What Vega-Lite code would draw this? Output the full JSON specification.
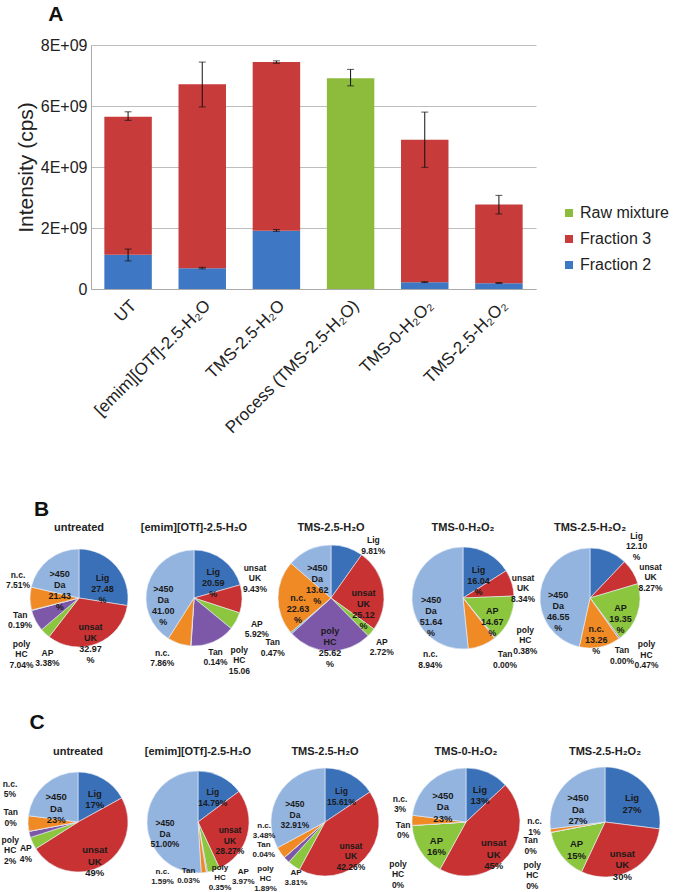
{
"$schema": "https://vega.github.io/schema/vega-lite/v6.json",
"padding": {"left": 1, "top": 4, "right": 0, "bottom": 0},
"columns": 1,
"spacing": 63,
"resolve": {"scale": {"color": "independent"}, "legend": {"color": "independent"}},
"config": {
  "font": "Liberation Sans",
  "view": {"stroke": null},
  "title": {"font": "Liberation Sans", "fontSize": 11, "fontWeight": "bold", "color": "#222222"},
  "text": {"font": "Liberation Sans", "fontSize": 8.5, "fontWeight": "bold", "lineBreak": "\n", "fill": "#1a1a1a"},
  "arc": {"stroke": "#e8eef8", "strokeWidth": 0.6}
},
"datasets": {
  "bars": [
    {"sample": "UT", "series": "Fraction 2", "value": 1120000000},
    {"sample": "UT", "series": "Fraction 3", "value": 4530000000},
    {"sample": "[emim][OTf]-2.5-H₂O", "series": "Fraction 2", "value": 680000000},
    {"sample": "[emim][OTf]-2.5-H₂O", "series": "Fraction 3", "value": 6030000000},
    {"sample": "TMS-2.5-H₂O", "series": "Fraction 2", "value": 1910000000},
    {"sample": "TMS-2.5-H₂O", "series": "Fraction 3", "value": 5530000000},
    {"sample": "Process (TMS-2.5-H₂O)", "series": "Raw mixture", "value": 6910000000},
    {"sample": "TMS-0-H₂O₂", "series": "Fraction 2", "value": 220000000},
    {"sample": "TMS-0-H₂O₂", "series": "Fraction 3", "value": 4670000000},
    {"sample": "TMS-2.5-H₂O₂", "series": "Fraction 2", "value": 190000000},
    {"sample": "TMS-2.5-H₂O₂", "series": "Fraction 3", "value": 2580000000}
  ],
  "errs": [
    {"sample": "UT", "lo": 920000000, "hi": 1310000000},
    {"sample": "UT", "lo": 5530000000, "hi": 5810000000},
    {"sample": "[emim][OTf]-2.5-H₂O", "lo": 660000000, "hi": 710000000},
    {"sample": "[emim][OTf]-2.5-H₂O", "lo": 5970000000, "hi": 7440000000},
    {"sample": "TMS-2.5-H₂O", "lo": 1890000000, "hi": 1950000000},
    {"sample": "TMS-2.5-H₂O", "lo": 7400000000, "hi": 7480000000},
    {"sample": "Process (TMS-2.5-H₂O)", "lo": 6660000000, "hi": 7200000000},
    {"sample": "TMS-0-H₂O₂", "lo": 210000000, "hi": 240000000},
    {"sample": "TMS-0-H₂O₂", "lo": 3990000000, "hi": 5800000000},
    {"sample": "TMS-2.5-H₂O₂", "lo": 180000000, "hi": 210000000},
    {"sample": "TMS-2.5-H₂O₂", "lo": 2460000000, "hi": 3070000000}
  ],
  "pies": [
    {"p": "B", "s": "untreated", "cat": "Lig", "k": 1, "v": 27.48, "lab": "Lig\n27.48\n%"},
    {"p": "B", "s": "untreated", "cat": "unsat UK", "k": 2, "v": 32.97, "lab": "unsat\nUK\n32.97\n%"},
    {"p": "B", "s": "untreated", "cat": "AP", "k": 3, "v": 3.38, "lab": "AP\n3.38%"},
    {"p": "B", "s": "untreated", "cat": "poly HC", "k": 4, "v": 7.04, "lab": "poly\nHC\n7.04%"},
    {"p": "B", "s": "untreated", "cat": "Tan", "k": 5, "v": 0.19, "lab": "Tan\n0.19%"},
    {"p": "B", "s": "untreated", "cat": "n.c.", "k": 6, "v": 7.51, "lab": "n.c.\n7.51%"},
    {"p": "B", "s": "untreated", "cat": ">450 Da", "k": 7, "v": 21.43, "lab": ">450\nDa\n21.43\n%"},
    {"p": "B", "s": "emim", "cat": "Lig", "k": 1, "v": 20.59, "lab": "Lig\n20.59\n%"},
    {"p": "B", "s": "emim", "cat": "unsat UK", "k": 2, "v": 9.43, "lab": "unsat\nUK\n9.43%"},
    {"p": "B", "s": "emim", "cat": "AP", "k": 3, "v": 5.92, "lab": "AP\n5.92%"},
    {"p": "B", "s": "emim", "cat": "poly HC", "k": 4, "v": 15.06, "lab": "poly\nHC\n15.06"},
    {"p": "B", "s": "emim", "cat": "Tan", "k": 5, "v": 0.14, "lab": "Tan\n0.14%"},
    {"p": "B", "s": "emim", "cat": "n.c.", "k": 6, "v": 7.86, "lab": "n.c.\n7.86%"},
    {"p": "B", "s": "emim", "cat": ">450 Da", "k": 7, "v": 41.0, "lab": ">450\nDa\n41.00\n%"},
    {"p": "B", "s": "TMS25", "cat": "Lig", "k": 1, "v": 9.81, "lab": "Lig\n9.81%"},
    {"p": "B", "s": "TMS25", "cat": "unsat UK", "k": 2, "v": 25.12, "lab": "unsat\nUK\n25.12\n%"},
    {"p": "B", "s": "TMS25", "cat": "AP", "k": 3, "v": 2.72, "lab": "AP\n2.72%"},
    {"p": "B", "s": "TMS25", "cat": "poly HC", "k": 4, "v": 25.62, "lab": "poly\nHC\n25.62\n%"},
    {"p": "B", "s": "TMS25", "cat": "Tan", "k": 5, "v": 0.47, "lab": "Tan\n0.47%"},
    {"p": "B", "s": "TMS25", "cat": "n.c.", "k": 6, "v": 22.63, "lab": "n.c.\n22.63\n%"},
    {"p": "B", "s": "TMS25", "cat": ">450 Da", "k": 7, "v": 13.62, "lab": ">450\nDa\n13.62\n%"},
    {"p": "B", "s": "TMS0", "cat": "Lig", "k": 1, "v": 16.04, "lab": "Lig\n16.04\n%"},
    {"p": "B", "s": "TMS0", "cat": "unsat UK", "k": 2, "v": 8.34, "lab": "unsat\nUK\n8.34%"},
    {"p": "B", "s": "TMS0", "cat": "AP", "k": 3, "v": 14.67, "lab": "AP\n14.67\n%"},
    {"p": "B", "s": "TMS0", "cat": "poly HC", "k": 4, "v": 0.38, "lab": "poly\nHC\n0.38%"},
    {"p": "B", "s": "TMS0", "cat": "Tan", "k": 5, "v": 0.0, "lab": "Tan\n0.00%"},
    {"p": "B", "s": "TMS0", "cat": "n.c.", "k": 6, "v": 8.94, "lab": "n.c.\n8.94%"},
    {"p": "B", "s": "TMS0", "cat": ">450 Da", "k": 7, "v": 51.64, "lab": ">450\nDa\n51.64\n%"},
    {"p": "B", "s": "TMS25P", "cat": "Lig", "k": 1, "v": 12.1, "lab": "Lig\n12.10\n%"},
    {"p": "B", "s": "TMS25P", "cat": "unsat UK", "k": 2, "v": 8.27, "lab": "unsat\nUK\n8.27%"},
    {"p": "B", "s": "TMS25P", "cat": "AP", "k": 3, "v": 19.35, "lab": "AP\n19.35\n%"},
    {"p": "B", "s": "TMS25P", "cat": "poly HC", "k": 4, "v": 0.47, "lab": "poly\nHC\n0.47%"},
    {"p": "B", "s": "TMS25P", "cat": "Tan", "k": 5, "v": 0.0, "lab": "Tan\n0.00%"},
    {"p": "B", "s": "TMS25P", "cat": "n.c.", "k": 6, "v": 13.26, "lab": "n.c.\n13.26\n%"},
    {"p": "B", "s": "TMS25P", "cat": ">450 Da", "k": 7, "v": 46.55, "lab": ">450\nDa\n46.55\n%"},
    {"p": "C", "s": "untreated", "cat": "Lig", "k": 1, "v": 17, "lab": "Lig\n17%"},
    {"p": "C", "s": "untreated", "cat": "unsat UK", "k": 2, "v": 49, "lab": "unsat\nUK\n49%"},
    {"p": "C", "s": "untreated", "cat": "AP", "k": 3, "v": 4, "lab": "AP\n4%"},
    {"p": "C", "s": "untreated", "cat": "poly HC", "k": 4, "v": 2, "lab": "poly\nHC\n2%"},
    {"p": "C", "s": "untreated", "cat": "Tan", "k": 5, "v": 0, "lab": "Tan\n0%"},
    {"p": "C", "s": "untreated", "cat": "n.c.", "k": 6, "v": 5, "lab": "n.c.\n5%"},
    {"p": "C", "s": "untreated", "cat": ">450 Da", "k": 7, "v": 23, "lab": ">450\nDa\n23%"},
    {"p": "C", "s": "emim", "cat": "Lig", "k": 1, "v": 14.79, "lab": "Lig\n14.79%"},
    {"p": "C", "s": "emim", "cat": "unsat UK", "k": 2, "v": 28.27, "lab": "unsat\nUK\n28.27%"},
    {"p": "C", "s": "emim", "cat": "AP", "k": 3, "v": 3.97, "lab": "AP\n3.97%"},
    {"p": "C", "s": "emim", "cat": "poly HC", "k": 4, "v": 0.35, "lab": "poly\nHC\n0.35%"},
    {"p": "C", "s": "emim", "cat": "Tan", "k": 5, "v": 0.03, "lab": "Tan\n0.03%"},
    {"p": "C", "s": "emim", "cat": "n.c.", "k": 6, "v": 1.59, "lab": "n.c.\n1.59%"},
    {"p": "C", "s": "emim", "cat": ">450 Da", "k": 7, "v": 51.0, "lab": ">450\nDa\n51.00%"},
    {"p": "C", "s": "TMS25", "cat": "Lig", "k": 1, "v": 15.61, "lab": "Lig\n15.61%"},
    {"p": "C", "s": "TMS25", "cat": "unsat UK", "k": 2, "v": 42.26, "lab": "unsat\nUK\n42.26%"},
    {"p": "C", "s": "TMS25", "cat": "AP", "k": 3, "v": 3.81, "lab": "AP\n3.81%"},
    {"p": "C", "s": "TMS25", "cat": "poly HC", "k": 4, "v": 1.89, "lab": "poly\nHC\n1.89%"},
    {"p": "C", "s": "TMS25", "cat": "Tan", "k": 5, "v": 0.04, "lab": "Tan\n0.04%"},
    {"p": "C", "s": "TMS25", "cat": "n.c.", "k": 6, "v": 3.48, "lab": "n.c.\n3.48%"},
    {"p": "C", "s": "TMS25", "cat": ">450 Da", "k": 7, "v": 32.91, "lab": ">450\nDa\n32.91%"},
    {"p": "C", "s": "TMS0", "cat": "Lig", "k": 1, "v": 13, "lab": "Lig\n13%"},
    {"p": "C", "s": "TMS0", "cat": "unsat UK", "k": 2, "v": 45, "lab": "unsat\nUK\n45%"},
    {"p": "C", "s": "TMS0", "cat": "AP", "k": 3, "v": 16, "lab": "AP\n16%"},
    {"p": "C", "s": "TMS0", "cat": "poly HC", "k": 4, "v": 0, "lab": "poly\nHC\n0%"},
    {"p": "C", "s": "TMS0", "cat": "Tan", "k": 5, "v": 0, "lab": "Tan\n0%"},
    {"p": "C", "s": "TMS0", "cat": "n.c.", "k": 6, "v": 3, "lab": "n.c.\n3%"},
    {"p": "C", "s": "TMS0", "cat": ">450 Da", "k": 7, "v": 23, "lab": ">450\nDa\n23%"},
    {"p": "C", "s": "TMS25P", "cat": "Lig", "k": 1, "v": 27, "lab": "Lig\n27%"},
    {"p": "C", "s": "TMS25P", "cat": "unsat UK", "k": 2, "v": 30, "lab": "unsat\nUK\n30%"},
    {"p": "C", "s": "TMS25P", "cat": "AP", "k": 3, "v": 15, "lab": "AP\n15%"},
    {"p": "C", "s": "TMS25P", "cat": "poly HC", "k": 4, "v": 0, "lab": "poly\nHC\n0%"},
    {"p": "C", "s": "TMS25P", "cat": "Tan", "k": 5, "v": 0, "lab": "Tan\n0%"},
    {"p": "C", "s": "TMS25P", "cat": "n.c.", "k": 6, "v": 1, "lab": "n.c.\n1%"},
    {"p": "C", "s": "TMS25P", "cat": ">450 Da", "k": 7, "v": 27, "lab": ">450\nDa\n27%"}
  ]
},
"concat": [
  {
    "spacing": 0,
    "hconcat": [
      {"width": 1, "height": 1, "data": {"name": "bars"}, "transform": [{"filter": "false"}], "mark": {"type": "point", "opacity": 0}},
      {
        "title": {"text": "A", "anchor": "start", "frame": "bounds", "fontSize": 21, "fontWeight": "bold", "color": "#111111", "dx": 33, "offset": 12},
        "width": 445,
        "height": 244,
        "encoding": {
          "x": {"field": "sample", "type": "nominal",
            "sort": ["UT", "[emim][OTf]-2.5-H₂O", "TMS-2.5-H₂O", "Process (TMS-2.5-H₂O)", "TMS-0-H₂O₂", "TMS-2.5-H₂O₂"],
            "scale": {"paddingInner": 0.36, "paddingOuter": 0.18},
            "axis": {"title": null, "labelAngle": -45, "labelFontSize": 17, "labelColor": "#222222", "ticks": false, "domainColor": "#aaaaaa", "labelPadding": 8, "labelLimit": 300}}
        },
        "layer": [
          {
            "data": {"name": "bars"},
            "mark": {"type": "bar"},
            "encoding": {
              "y": {"field": "value", "type": "quantitative", "stack": "zero", "title": "Intensity (cps)",
                "scale": {"domain": [0, 8000000000], "nice": false},
                "axis": {"values": [0, 2000000000, 4000000000, 6000000000, 8000000000],
                  "labelExpr": "datum.value == 0 ? '0' : format(datum.value / 1e9, 'd') + 'E+09'",
                  "labelFontSize": 16, "labelColor": "#222222", "titleFontSize": 21, "titleFontWeight": "normal", "titleColor": "#222222",
                  "titlePadding": 4, "ticks": false, "domainColor": "#aaaaaa", "gridColor": "#bdbdbd", "labelPadding": 4}},
              "color": {"field": "series", "type": "nominal",
                "scale": {"domain": ["Raw mixture", "Fraction 3", "Fraction 2"], "range": ["#8dbb3c", "#c73b3b", "#3e78c5"]},
                "legend": {"title": null, "orient": "none", "legendX": 547, "legendY": 160, "symbolType": "square", "symbolSize": 64, "symbolStrokeWidth": 0, "labelFontSize": 16, "labelColor": "#222222", "rowPadding": 10, "labelOffset": 3}},
              "order": {"field": "series", "sort": "ascending"}
            }
          },
          {
            "data": {"name": "errs"},
            "mark": {"type": "rule", "color": "#111111", "strokeWidth": 1},
            "encoding": {
              "y": {"field": "lo", "type": "quantitative", "title": "Intensity (cps)"},
              "y2": {"field": "hi"}
            }
          },
          {
            "data": {"name": "errs"},
            "mark": {"type": "tick", "color": "#111111", "size": 7, "thickness": 1},
            "encoding": {"y": {"field": "lo", "type": "quantitative", "title": "Intensity (cps)"}}
          },
          {
            "data": {"name": "errs"},
            "mark": {"type": "tick", "color": "#111111", "size": 7, "thickness": 1},
            "encoding": {"y": {"field": "hi", "type": "quantitative", "title": "Intensity (cps)"}}
          }
        ]
      }
    ]
  },
  {
    "columns": 1,
    "spacing": 29,
    "concat": [
      {
        "title": {"text": "B", "anchor": "start", "frame": "bounds", "fontSize": 21, "fontWeight": "bold", "color": "#111111", "dx": 28, "offset": -7},
        "spacing": 0,
        "bounds": "flush",
        "hconcat": [
          {"width": 130, "height": 170, "title": {"text": "untreated", "offset": -20}, "data": {"name": "pies"},
           "transform": [{"filter": "datum.p == 'B' && datum.s == 'untreated'"}],
           "encoding": {"theta": {"field": "v", "type": "quantitative", "stack": true}, "order": {"field": "k", "type": "quantitative"}},
           "layer": [
             {"mark": {"type": "arc", "outerRadius": 49},
              "encoding": {"color": {"field": "cat", "type": "nominal", "legend": null, "scale": {"domain": ["Lig", "unsat UK", "AP", "poly HC", "Tan", "n.c.", ">450 Da"], "range": ["#3a70b8", "#c83232", "#8cc63e", "#7e58a8", "#4bacc6", "#f08a24", "#94b4e0"]}}}},
             {"mark": {"type": "text", "radius": 31, "fontSize": 9}, "encoding": {"text": {"field": "lab", "condition": {"test": "datum.v < 12.5", "value": ""}}}},
             {"mark": {"type": "text", "radius": 66, "dx": 14, "dy": 7}, "encoding": {"text": {"field": "lab", "condition": {"test": "datum.cat != 'AP'", "value": ""}}}},
             {"mark": {"type": "text", "radius": 66, "dx": 1, "dy": 15}, "encoding": {"text": {"field": "lab", "condition": {"test": "datum.cat != 'poly HC'", "value": ""}}}},
             {"mark": {"type": "text", "radius": 66, "dx": 5, "dy": 0}, "encoding": {"text": {"field": "lab", "condition": {"test": "datum.cat != 'Tan'", "value": ""}}}},
             {"mark": {"type": "text", "radius": 50, "dx": -11, "dy": -24}, "encoding": {"text": {"field": "lab", "condition": {"test": "datum.cat != 'n.c.'", "value": ""}}}}
           ]},
          {"width": 100, "height": 170, "title": {"text": "[emim][OTf]-2.5-H₂O", "offset": -20}, "data": {"name": "pies"},
           "transform": [{"filter": "datum.p == 'B' && datum.s == 'emim'"}],
           "encoding": {"theta": {"field": "v", "type": "quantitative", "stack": true}, "order": {"field": "k", "type": "quantitative"}},
           "layer": [
             {"mark": {"type": "arc", "outerRadius": 48},
              "encoding": {"color": {"field": "cat", "type": "nominal", "legend": null, "scale": {"domain": ["Lig", "unsat UK", "AP", "poly HC", "Tan", "n.c.", ">450 Da"], "range": ["#3a70b8", "#c83232", "#8cc63e", "#7e58a8", "#4bacc6", "#f08a24", "#94b4e0"]}}}},
             {"mark": {"type": "text", "radius": 32, "fontSize": 9}, "encoding": {"text": {"field": "lab", "condition": {"test": "datum.v < 16", "value": ""}}}},
             {"mark": {"type": "text", "radius": 45, "dx": 16, "dy": -31}, "encoding": {"text": {"field": "lab", "condition": {"test": "datum.cat != 'unsat UK'", "value": ""}}}},
             {"mark": {"type": "text", "radius": 66, "dx": 5, "dy": -6}, "encoding": {"text": {"field": "lab", "condition": {"test": "datum.cat != 'AP'", "value": ""}}}},
             {"mark": {"type": "text", "radius": 66, "dx": 19, "dy": -9}, "encoding": {"text": {"field": "lab", "condition": {"test": "datum.cat != 'poly HC'", "value": ""}}}},
             {"mark": {"type": "text", "radius": 66, "dx": 26, "dy": -12}, "encoding": {"text": {"field": "lab", "condition": {"test": "datum.cat != 'Tan'", "value": ""}}}},
             {"mark": {"type": "text", "radius": 66, "dx": -11, "dy": -8}, "encoding": {"text": {"field": "lab", "condition": {"test": "datum.cat != 'n.c.'", "value": ""}}}}
           ]},
          {"width": 174, "height": 170, "title": {"text": "TMS-2.5-H₂O", "offset": -20}, "data": {"name": "pies"},
           "transform": [{"filter": "datum.p == 'B' && datum.s == 'TMS25'"}],
           "encoding": {"theta": {"field": "v", "type": "quantitative", "stack": true}, "order": {"field": "k", "type": "quantitative"}},
           "layer": [
             {"mark": {"type": "arc", "outerRadius": 53},
              "encoding": {"color": {"field": "cat", "type": "nominal", "legend": null, "scale": {"domain": ["Lig", "unsat UK", "AP", "poly HC", "Tan", "n.c.", ">450 Da"], "range": ["#3a70b8", "#c83232", "#8cc63e", "#7e58a8", "#4bacc6", "#f08a24", "#94b4e0"]}}}},
             {"mark": {"type": "text", "radius": 33, "fontSize": 9}, "encoding": {"text": {"field": "lab", "condition": {"test": "datum.v < 12.5", "value": ""}}}},
             {"mark": {"type": "text", "radius": 67, "dx": 22, "dy": 6}, "encoding": {"text": {"field": "lab", "condition": {"test": "datum.cat != 'Lig'", "value": ""}}}},
             {"mark": {"type": "text", "radius": 67, "dx": 0, "dy": 0}, "encoding": {"text": {"field": "lab", "condition": {"test": "datum.cat != 'AP'", "value": ""}}}},
             {"mark": {"type": "text", "radius": 67, "dx": -8, "dy": 0}, "encoding": {"text": {"field": "lab", "condition": {"test": "datum.cat != 'Tan'", "value": ""}}}}
           ]},
          {"width": 90, "height": 170, "title": {"text": "TMS-0-H₂O₂", "offset": -20}, "data": {"name": "pies"},
           "transform": [{"filter": "datum.p == 'B' && datum.s == 'TMS0'"}],
           "encoding": {"theta": {"field": "v", "type": "quantitative", "stack": true}, "order": {"field": "k", "type": "quantitative"}},
           "layer": [
             {"mark": {"type": "arc", "outerRadius": 51},
              "encoding": {"color": {"field": "cat", "type": "nominal", "legend": null, "scale": {"domain": ["Lig", "unsat UK", "AP", "poly HC", "Tan", "n.c.", ">450 Da"], "range": ["#3a70b8", "#c83232", "#8cc63e", "#7e58a8", "#4bacc6", "#f08a24", "#94b4e0"]}}}},
             {"mark": {"type": "text", "radius": 32, "fontSize": 9}, "encoding": {"text": {"field": "lab", "condition": {"test": "datum.v < 12.5", "value": ""}}}},
             {"mark": {"type": "text", "radius": 65, "dx": -2, "dy": -1}, "encoding": {"text": {"field": "lab", "condition": {"test": "datum.cat != 'unsat UK'", "value": ""}}}},
             {"mark": {"type": "text", "radius": 50, "dx": 31, "dy": -7}, "encoding": {"text": {"field": "lab", "condition": {"test": "datum.cat != 'poly HC'", "value": ""}}}},
             {"mark": {"type": "text", "radius": 65, "dx": 2, "dy": 5}, "encoding": {"text": {"field": "lab", "condition": {"test": "datum.cat != 'Tan'", "value": ""}}}},
             {"mark": {"type": "text", "radius": 65, "dx": -57, "dy": -4}, "encoding": {"text": {"field": "lab", "condition": {"test": "datum.cat != 'n.c.'", "value": ""}}}}
           ]},
          {"width": 164, "height": 170, "title": {"text": "TMS-2.5-H₂O₂", "offset": -20}, "data": {"name": "pies"},
           "transform": [{"filter": "datum.p == 'B' && datum.s == 'TMS25P'"}],
           "encoding": {"theta": {"field": "v", "type": "quantitative", "stack": true}, "order": {"field": "k", "type": "quantitative"}},
           "layer": [
             {"mark": {"type": "arc", "outerRadius": 50},
              "encoding": {"color": {"field": "cat", "type": "nominal", "legend": null, "scale": {"domain": ["Lig", "unsat UK", "AP", "poly HC", "Tan", "n.c.", ">450 Da"], "range": ["#3a70b8", "#c83232", "#8cc63e", "#7e58a8", "#4bacc6", "#f08a24", "#94b4e0"]}}}},
             {"mark": {"type": "text", "radius": 32, "fontSize": 9}, "encoding": {"text": {"field": "lab", "condition": {"test": "datum.v < 12.5", "value": ""}}}},
             {"mark": {"type": "text", "radius": 50, "dx": 28, "dy": -16}, "encoding": {"text": {"field": "lab", "condition": {"test": "datum.cat != 'Lig'", "value": ""}}}},
             {"mark": {"type": "text", "radius": 64, "dx": 6, "dy": 2}, "encoding": {"text": {"field": "lab", "condition": {"test": "datum.cat != 'unsat UK'", "value": ""}}}},
             {"mark": {"type": "text", "radius": 50, "dx": 27, "dy": 6}, "encoding": {"text": {"field": "lab", "condition": {"test": "datum.cat != 'poly HC'", "value": ""}}}},
             {"mark": {"type": "text", "radius": 64, "dx": -5, "dy": 0}, "encoding": {"text": {"field": "lab", "condition": {"test": "datum.cat != 'Tan'", "value": ""}}}}
           ]}
        ]
      },
      {
        "title": {"text": "C", "anchor": "start", "frame": "bounds", "fontSize": 21, "fontWeight": "bold", "color": "#111111", "dx": 28, "offset": 13},
        "spacing": 0,
        "bounds": "flush",
        "hconcat": [
          {"width": 128, "height": 134, "title": {"text": "untreated", "offset": -2}, "data": {"name": "pies"},
           "transform": [{"filter": "datum.p == 'C' && datum.s == 'untreated'"}],
           "encoding": {"theta": {"field": "v", "type": "quantitative", "stack": true}, "order": {"field": "k", "type": "quantitative"}},
           "layer": [
             {"mark": {"type": "arc", "outerRadius": 50},
              "encoding": {"color": {"field": "cat", "type": "nominal", "legend": null, "scale": {"domain": ["Lig", "unsat UK", "AP", "poly HC", "Tan", "n.c.", ">450 Da"], "range": ["#3a70b8", "#c83232", "#8cc63e", "#7e58a8", "#4bacc6", "#f08a24", "#94b4e0"]}}}},
             {"mark": {"type": "text", "radius": 33, "fontSize": 9.5}, "encoding": {"text": {"field": "lab", "condition": {"test": "datum.v < 12.5", "value": ""}}}},
             {"mark": {"type": "text", "radius": 40, "dx": -16, "dy": 9}, "encoding": {"text": {"field": "lab", "condition": {"test": "datum.cat != 'AP'", "value": ""}}}},
             {"mark": {"type": "text", "radius": 40, "dx": -29, "dy": 8}, "encoding": {"text": {"field": "lab", "condition": {"test": "datum.cat != 'poly HC'", "value": ""}}}},
             {"mark": {"type": "text", "radius": 40, "dx": -28, "dy": -17}, "encoding": {"text": {"field": "lab", "condition": {"test": "datum.cat != 'Tan'", "value": ""}}}},
             {"mark": {"type": "text", "radius": 20, "dx": -48, "dy": -39}, "encoding": {"text": {"field": "lab", "condition": {"test": "datum.cat != 'n.c.'", "value": ""}}}}
           ]},
          {"width": 112, "height": 134, "title": {"text": "[emim][OTf]-2.5-H₂O", "offset": -2}, "data": {"name": "pies"},
           "transform": [{"filter": "datum.p == 'C' && datum.s == 'emim'"}],
           "encoding": {"theta": {"field": "v", "type": "quantitative", "stack": true}, "order": {"field": "k", "type": "quantitative"}},
           "layer": [
             {"mark": {"type": "arc", "outerRadius": 51},
              "encoding": {"color": {"field": "cat", "type": "nominal", "legend": null, "scale": {"domain": ["Lig", "unsat UK", "AP", "poly HC", "Tan", "n.c.", ">450 Da"], "range": ["#3a70b8", "#c83232", "#8cc63e", "#7e58a8", "#4bacc6", "#f08a24", "#94b4e0"]}}}},
             {"mark": {"type": "text", "radius": 33, "fontSize": 8.5}, "encoding": {"text": {"field": "lab", "condition": {"test": "datum.v < 12.5", "value": ""}}}},
             {"mark": {"type": "text", "radius": 40, "fontSize": 8, "dx": 33, "dy": 12}, "encoding": {"text": {"field": "lab", "condition": {"test": "datum.cat != 'AP'", "value": ""}}}},
             {"mark": {"type": "text", "radius": 40, "fontSize": 8, "dx": 15, "dy": 7}, "encoding": {"text": {"field": "lab", "condition": {"test": "datum.cat != 'poly HC'", "value": ""}}}},
             {"mark": {"type": "text", "radius": 40, "fontSize": 8, "dx": -16, "dy": 10}, "encoding": {"text": {"field": "lab", "condition": {"test": "datum.cat != 'Tan'", "value": ""}}}},
             {"mark": {"type": "text", "radius": 40, "fontSize": 8, "dx": -40, "dy": 10}, "encoding": {"text": {"field": "lab", "condition": {"test": "datum.cat != 'n.c.'", "value": ""}}}}
           ]},
          {"width": 142, "height": 134, "title": {"text": "TMS-2.5-H₂O", "offset": -2}, "data": {"name": "pies"},
           "transform": [{"filter": "datum.p == 'C' && datum.s == 'TMS25'"}],
           "encoding": {"theta": {"field": "v", "type": "quantitative", "stack": true}, "order": {"field": "k", "type": "quantitative"}},
           "layer": [
             {"mark": {"type": "arc", "outerRadius": 54},
              "encoding": {"color": {"field": "cat", "type": "nominal", "legend": null, "scale": {"domain": ["Lig", "unsat UK", "AP", "poly HC", "Tan", "n.c.", ">450 Da"], "range": ["#3a70b8", "#c83232", "#8cc63e", "#7e58a8", "#4bacc6", "#f08a24", "#94b4e0"]}}}},
             {"mark": {"type": "text", "radius": 35, "fontSize": 8.5}, "encoding": {"text": {"field": "lab", "condition": {"test": "datum.v < 12.5", "value": ""}}}},
             {"mark": {"type": "text", "radius": 40, "fontSize": 8, "dx": -6, "dy": 18}, "encoding": {"text": {"field": "lab", "condition": {"test": "datum.cat != 'AP'", "value": ""}}}},
             {"mark": {"type": "text", "radius": 40, "fontSize": 8, "dx": -31, "dy": 19}, "encoding": {"text": {"field": "lab", "condition": {"test": "datum.cat != 'poly HC'", "value": ""}}}},
             {"mark": {"type": "text", "radius": 40, "fontSize": 8, "dx": -31, "dy": -3}, "encoding": {"text": {"field": "lab", "condition": {"test": "datum.cat != 'Tan'", "value": ""}}}},
             {"mark": {"type": "text", "radius": 40, "fontSize": 8, "dx": -28, "dy": -19}, "encoding": {"text": {"field": "lab", "condition": {"test": "datum.cat != 'n.c.'", "value": ""}}}}
           ]},
          {"width": 140, "height": 134, "title": {"text": "TMS-0-H₂O₂", "offset": -2}, "data": {"name": "pies"},
           "transform": [{"filter": "datum.p == 'C' && datum.s == 'TMS0'"}],
           "encoding": {"theta": {"field": "v", "type": "quantitative", "stack": true}, "order": {"field": "k", "type": "quantitative"}},
           "layer": [
             {"mark": {"type": "arc", "outerRadius": 54},
              "encoding": {"color": {"field": "cat", "type": "nominal", "legend": null, "scale": {"domain": ["Lig", "unsat UK", "AP", "poly HC", "Tan", "n.c.", ">450 Da"], "range": ["#3a70b8", "#c83232", "#8cc63e", "#7e58a8", "#4bacc6", "#f08a24", "#94b4e0"]}}}},
             {"mark": {"type": "text", "radius": 35, "fontSize": 9.5}, "encoding": {"text": {"field": "lab", "condition": {"test": "datum.v < 12.5", "value": ""}}}},
             {"mark": {"type": "text", "radius": 15, "dx": -53, "dy": 41}, "encoding": {"text": {"field": "lab", "condition": {"test": "datum.cat != 'poly HC'", "value": ""}}}},
             {"mark": {"type": "text", "radius": 40, "dx": -23, "dy": 0}, "encoding": {"text": {"field": "lab", "condition": {"test": "datum.cat != 'Tan'", "value": ""}}}},
             {"mark": {"type": "text", "radius": 35, "dx": -31, "dy": -22}, "encoding": {"text": {"field": "lab", "condition": {"test": "datum.cat != 'n.c.'", "value": ""}}}}
           ]},
          {"width": 138, "height": 134, "title": {"text": "TMS-2.5-H₂O₂", "offset": -2}, "data": {"name": "pies"},
           "transform": [{"filter": "datum.p == 'C' && datum.s == 'TMS25P'"}],
           "encoding": {"theta": {"field": "v", "type": "quantitative", "stack": true}, "order": {"field": "k", "type": "quantitative"}},
           "layer": [
             {"mark": {"type": "arc", "outerRadius": 55},
              "encoding": {"color": {"field": "cat", "type": "nominal", "legend": null, "scale": {"domain": ["Lig", "unsat UK", "AP", "poly HC", "Tan", "n.c.", ">450 Da"], "range": ["#3a70b8", "#c83232", "#8cc63e", "#7e58a8", "#4bacc6", "#f08a24", "#94b4e0"]}}}},
             {"mark": {"type": "text", "radius": 36, "fontSize": 9.5}, "encoding": {"text": {"field": "lab", "condition": {"test": "datum.v < 12.5", "value": ""}}}},
             {"mark": {"type": "text", "radius": 40, "dx": -35, "dy": 11}, "encoding": {"text": {"field": "lab", "condition": {"test": "datum.cat != 'Tan'", "value": ""}}}},
             {"mark": {"type": "text", "radius": 15, "dx": -58, "dy": 40}, "encoding": {"text": {"field": "lab", "condition": {"test": "datum.cat != 'poly HC'", "value": ""}}}},
             {"mark": {"type": "text", "radius": 40, "dx": -31, "dy": -7}, "encoding": {"text": {"field": "lab", "condition": {"test": "datum.cat != 'n.c.'", "value": ""}}}}
           ]}
        ]
      }
    ]
  }
]
}
